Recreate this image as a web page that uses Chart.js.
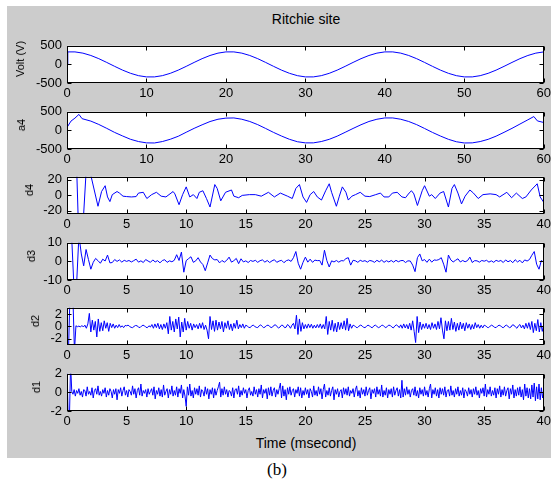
<!DOCTYPE html>
<html>
<head>
<meta charset="utf-8">
<script src="https://cdn.jsdelivr.net/npm/chart.js@4.4.1/dist/chart.umd.min.js"></script>
<style>
  body { margin: 0; width: 554px; height: 481px; background: #fff; position: relative; overflow: hidden; }
  #figure { position: absolute; left: 7px; top: 6px; width: 544px; height: 452px; background: #cccccc; }
  canvas { position: absolute; left: 0; }
  .txt { position: absolute; font-family: "Liberation Sans", Arial, sans-serif; color: #000; white-space: nowrap; }
  .ylab { font-size: 11px; line-height: 12px; transform: translate(-50%, -50%) rotate(-90deg); }
</style>
</head>
<body>
<div id="figure"></div>
<div class="txt" style="left:206px; width:200px; text-align:center; top:11px; font-size:14px; line-height:16px;">Ritchie site</div>
<div class="txt" style="left:206px; width:200px; text-align:center; top:435px; font-size:14px; line-height:16px;">Time (msecond)</div>
<div class="txt" style="left:227px; width:100px; text-align:center; top:460px; font-family:'Liberation Serif', 'Times New Roman', serif; font-size:17px; line-height:20px;">(b)</div>
<script>
// values (time in msecond)
const voltTime = [0, 0.1, 1, 2, 3, 4, 5, 6, 7, 8, 9, 10,
  11, 12, 13, 14, 15, 16, 17, 18, 19, 20,
  21, 22, 23, 24, 25, 26, 27, 28, 29, 30,
  31, 32, 33, 34, 35, 36, 37, 38, 39, 40,
  41, 42, 43, 44, 45, 46, 47, 48, 49, 50,
  51, 52, 53, 54, 55, 56, 57, 58, 59, 60];
const voltValue = [0, 336, 336, 303, 240, 154, 53, -53, -154, -240, -303, -336,
  -336, -303, -240, -154, -53, 53, 154, 240, 303, 336,
  336, 303, 240, 154, 53, -53, -154, -240, -303, -336,
  -336, -303, -240, -154, -53, 53, 154, 240, 303, 336,
  336, 303, 240, 154, 53, -53, -154, -240, -303, -336,
  -336, -303, -240, -154, -53, 53, 154, 240, 303, 336];

const a4Time = [0, 0.5, 1, 1.5, 1.9,
  3, 4, 5, 6, 7, 8, 9, 10,
  11, 12, 13, 14, 15, 16, 17, 18, 19, 20,
  21, 22, 23, 24, 25, 26, 27, 28, 29, 30,
  31, 32, 33, 34, 35, 36, 37, 38, 39, 40,
  41, 42, 43, 44, 45, 46, 47, 48, 49, 50,
  51, 52, 53, 54, 55, 56, 57, 58, 58.75, 59.2, 60];
const a4Value = [80, 250, 330, 430, 315,
  250, 160, 55, -55, -150, -240, -300, -335,
  -338, -300, -238, -158, -50, 55, 150, 238, 300, 330,
  335, 300, 240, 155, 52, -55, -152, -240, -305, -335,
  -335, -300, -240, -155, -52, 52, 152, 240, 300, 335,
  335, 300, 240, 155, 52, -55, -152, -240, -305, -338,
  -335, -300, -240, -155, -52, 55, 170, 285, 372, 255, 212];

const d4Time = [0, 0.8, 1.0, 1.3, 1.6, 2.0, 2.6, 2.9, 3.2, 3.4,
  3.6, 3.8, 4.2, 4.4, 4.7, 5.0, 5.4, 5.8, 6.0, 6.4,
  6.7, 7.1, 7.5, 7.9, 8.3, 8.9, 9.05, 9.4, 9.7, 10.0,
  10.3, 10.6, 10.9, 11.1, 11.4, 11.7, 12.0, 12.4, 12.6, 12.9,
  13.3, 13.8, 14.0, 14.4, 14.7, 15.3, 15.8, 16.3, 16.9, 17.4,
  17.9, 18.5, 18.9, 19.2, 19.5, 19.8, 20.1, 20.4, 20.7, 21.0,
  21.35, 21.7, 22.0, 22.2, 22.6, 22.85, 23.1, 23.4, 23.6, 23.9,
  24.2, 24.6, 25.0, 25.4, 25.9, 26.3, 26.6, 27.0, 27.3, 27.7,
  28.1, 28.4, 28.7, 28.9, 29.1, 29.4, 29.8, 30.0, 30.4, 30.6,
  30.9, 31.3, 31.6, 32.0, 32.3, 32.5, 32.8, 33.1, 33.4, 33.8,
  34.1, 34.5, 34.9, 35.5, 36.0, 36.3, 36.9, 37.3, 37.7, 38.2,
  38.5, 38.95, 39.45, 39.7, 40.0];
const d4Value = [30, 40, -60, -50, 30, 26, -14, 5, 12.5, -2,
  -8, 1, 5, 3, -1, -1.5, -2, -1.5, 3, 4,
  -4, 1, 4, -1, -2, 5, 2, -12, 1, 11,
  -2, 1, -4, 4, 6, -4, -15, 14, 9, -7,
  4, 7, -1, -3, 0, 1, 1, -1, 4, -2,
  3, -1, -4, 9, 14, -2, -9, 1, 5, -2,
  -6, 6, 15, 4, -14, -1, 11, 4, -6, -1,
  1, 4, -1, -1.5, 1, 3, -2, -2, 3, 4,
  -2, -3, 3, 6, 2, -13, 6, 12.5, -1, 1,
  -4, 3, 5, -15, 9, 14, 3, -11, -1, 7,
  3, -4, 1, 2, 1, -2, 4, -3, 3, -4,
  -2, 7, 15, -2, -9];

// d3: one sample every 0.2 ms, five per group
const d3Step = 0.2;
const d3Value = [
  14, 16, 12, -16, -13,   14, 4, -2.4, 6.4, 1,
  -4.2, -0.5, 1.6, 0.4, -1,   1.2, 0.2, 3.4, -0.8, -0.6,
  1, 0, 0.8, -0.4, 0.6,   0, 0.5, -0.3, 0.4, 1.2,
  -0.4, 0.3, -0.6, 1, 0.2,   -0.5, 0.8, -0.3, 0.4, -0.8,
  0.5, 0.9, -0.5, 0.3, -0.2,   0.6, 3.6, 0.5, 5, -5.8,
  0.4, 1.5, 2.5, -0.5, 0.3,   2, -0.3, -1.7, -5, -0.8,
  3.4, 1.5, 0.8, 1, -0.8,   0.5, -0.4, 0.6, 2.3, -0.4,
  0.4, 1.6, -1.2, 1.4, -0.3,   0.3, -0.6, 0.5, 0, 0.6,
  -0.5, 0.4, 0.8, -0.4, 0.5,   -0.6, 0.3, 0.9, -0.5, 0.2,
  0.6, -0.7, 0.4, 0.8, 0,   2, 5.3, -1, -4.2, -0.5,
  2.3, -0.4, 1.2, -0.5, 0.7,   0.4, 0.5, -2, 6, 0.4,
  -3, 0.3, -0.3, 0.5, -0.4,   0.4, 0.3, 1.5, 2, -2,
  0.6, 0.3, -0.5, 0.6, 0,   0.4, -0.4, 0.5, 0.2, -0.5,
  0.6, -0.2, 0.7, -0.5, 0.4,   -0.3, 0.5, -0.4, 0.6, -0.2,
  0.4, 0.5, -0.6, 0.3, 0.2,   -2, -5.5, 2, 4, 0.3,
  1, -0.5, 1.2, -0.4, 0.8,   0.6, 1, 2, -1.5, -5.8,
  3.4, 0.8, -0.3, 0.6, 1.4,   -0.3, 0.5, -0.2, 0.4, 2.3,
  -0.6, 0.4, 0.3, -0.4, 0.5,   0.1, 0.6, -0.4, 0.3, -0.5,
  0.6, 0, 0.5, -0.6, 0.8,   -0.2, 0.5, -0.7, 0.9, -0.3,
  0.6, -0.8, 0.8, 0.2, 1,   3.3, 5.3, -1.5, -4.2, 0.5,
  -0.5];

// d2: one sample every 0.125 ms, eight per line (one line = 1 ms)
const d2Step = 0.125;
const d2Value = [
  -5, -4, 5, 4, 4.5, -4, 0.1, -0.05,
  0.05, -0.1, 0.15, -0.1, 0.2, -0.3, 0.4, 2.1,
  -0.9, 1.0, -0.6, 0.8, -1.7, 1.2, -0.8, 0.6,
  -0.7, 0.9, -0.3, 0.6, -0.8, 0.5, -0.2, 0.4,
  -0.3, 0.2, -0.2, 0.3, -0.15, 0.1, -0.2, 0.15,
  0.1, 0.2, 0, -0.15, -0.2, 0, 0.15, 0.1,
  -0.1, -0.2, 0.05, 0.2, 0.1, -0.15, -0.2, 0.1,
  -0.1, 0.3, -0.3, 0.4, -0.2, 0.5, -0.4, 0.3,
  -0.5, 0.4, -0.3, 0.6, -1.2, 1.6, -0.6, 0.8,
  -0.9, 1.2, -0.4, 1.5, -1.7, 0.7, -0.9, 1.3,
  -0.6, 0.8, -0.3, 0.5, -0.6, 0.4, -0.2, 0.3,
  -0.4, 0.5, -0.3, 0.6, -0.5, 0.2, -0.6, -2.0,
  1.6, -0.5, 0.9, -0.8, 1.0, -0.6, 0.7, -0.4,
  0.8, -0.9, 0.6, -0.3, 0.9, -0.5, 0.4, -0.7,
  0.5, -0.3, 1.0, -0.4, 0.3, -0.2, 0.4, -0.3,
  0.2, 0.05, -0.15, -0.2, 0.1, 0.2, 0, -0.15,
  -0.2, 0.1, 0.25, 0, -0.2, -0.1, 0.15, 0.2,
  0, -0.2, -0.1, 0.2, 0.25, -0.05, -0.25, -0.1,
  0.2, 0.15, -0.2, -0.15, 0.3, 0.1, -0.3, 0.2,
  0.5, -0.4, 1.8, -1.3, 1.2, -0.8, 0.6, -0.4,
  0.3, -0.3, 0.4, -0.2, 0.35, -0.3, 0.2, -0.25,
  0.3, -0.2, 0.4, -0.35, 0.3, -0.4, 1.6, -1.3,
  0.8, -0.6, 1.0, -0.8, 0.5, -0.9, 0.7, -0.5,
  0.6, -0.4, 0.9, -0.6, 1.3, -0.7, 0.4, -0.3,
  0.2, 0.1, -0.15, -0.2, 0.05, 0.2, 0.1, -0.15,
  -0.2, 0, 0.2, 0.1, -0.15, -0.2, 0.1, 0.2,
  0, -0.2, -0.1, 0.15, 0.2, -0.05, -0.2, 0,
  0.2, 0.15, -0.1, -0.25, 0.05, 0.25, 0.1, -0.2,
  0.25, -0.3, 0.4, -0.25, 0.3, -0.4, 0.5, -0.6,
  0.9, -0.8, -2.6, 1.6, -1.0, 0.7, -0.5, 0.4,
  -0.3, 0.5, -0.4, 0.3, -0.5, 0.6, -0.3, 0.4,
  -0.5, 0.8, -0.4, 1.4, -0.6, -2.0, 0.9, -0.7,
  0.8, -0.6, 1.3, -0.5, 0.7, -0.8, 0.5, -0.6,
  0.7, -0.4, 0.5, -0.7, 0.6, -0.3, 0.4, -0.5,
  0.3, -0.4, 0.6, -0.2, 0.3, -0.3, 0.2, -0.25,
  0.2, 0.1, -0.15, -0.2, 0.05, 0.2, 0.05, -0.15,
  -0.2, 0.05, 0.2, 0.1, -0.15, -0.2, 0.1, 0.2,
  0, -0.2, -0.1, 0.25, 0.2, -0.1, -0.3, 0.1,
  0.3, -0.25, 0.2, -0.4, 0.5, -0.3, 0.6, -0.5,
  0.8, -1.0, 0.5, -0.7, 1.1, -0.9, 0.6, -0.8,
  0.4];

// d1: one sample every 0.1 ms, ten per line (one line = 1 ms)
const d1Step = 0.1;
const d1Value = [
  3, -3, -3, 3, 0.1, -0.2, 0.3, -0.4, 0.2, -0.1,
  0.4, -0.3, 0.1, -0.5, 0.3, 0.2, -0.4, 0.6, -0.2, 0.1,
  -0.3, 0.5, -0.6, 0.2, 0.4, -0.2, 0.7, -0.3, 0.1, -0.4,
  0.3, -0.1, 0.5, -0.5, 0.2, -0.3, 0.4, 0.1, -0.6, 0.3,
  -0.2, 0.4, -0.8, 0.3, -0.1, 0.5, -0.4, 0.2, 0.6, -0.3,
  0.2, -0.5, 0.3, 0.1, -0.3, 0.7, -0.2, 0.4, -0.6, 0.2,
  0.5, -0.3, 0.9, -0.4, 0.2, -0.1, 0.3, -0.5, 0.4, -0.2,
  0.1, 0.4, -0.3, 0.6, -0.7, 0.2, -0.2, 0.5, -0.4, 0.3,
  -0.5, 0.8, -0.3, 0.1, 0.4, -0.6, 0.3, -0.2, 0.7, -0.4,
  0.2, -0.3, 0.6, -0.5, 0.4, -0.1, 0.8, -0.6, 0.3, -0.4,
  -1.5, 0.6, -0.3, 0.9, -0.4, 0.2, -0.6, 0.5, -0.2, 0.4,
  -0.3, 0.7, -0.5, 0.3, 0.1, -0.4, 0.6, -0.2, 0.4, -0.7,
  0.3, -0.2, 0.5, -0.6, 0.4, -0.3, 0.2, 0.6, 1.1, -0.5,
  0.4, -0.3, 0.6, -0.2, 0.3, -0.5, 0.2, 0.1, -0.4, 0.5,
  -0.6, 0.3, 0.4, -0.2, 0.7, -0.5, 0.2, -0.3, 0.5, -0.1,
  0.3, -0.6, 0.2, 0.5, -0.3, 0.1, -0.4, 0.6, -0.2, 0.3,
  -0.5, 0.4, -0.2, 0.8, -0.6, 0.3, -0.1, 0.4, -0.7, 0.5,
  -0.3, 0.6, -0.4, 0.2, 0.5, -0.5, 0.3, -0.2, 0.4, 1.0,
  -0.6, 0.7, -0.4, 0.3, -0.8, 0.5, -0.2, 0.6, -0.3, 0.2,
  0.4, -0.5, 0.3, -0.1, 0.6, -0.4, 0.5, -0.6, 0.2, -0.3,
  0.5, -0.2, 0.3, -0.6, 0.4, 0.1, -0.5, 0.7, -0.3, 0.2,
  -0.4, 0.6, -0.2, 0.4, -0.7, 0.3, 0.9, -0.5, 0.2, -0.3,
  0.5, -0.4, 0.2, 0.6, -0.8, 0.3, -0.2, 0.4, -0.5, 0.1,
  0.3, -0.6, 0.5, -0.2, 0.4, -0.3, 0.6, -0.4, 0.2, -0.1,
  0.4, -0.5, 0.3, 0.7, -0.4, 0.2, -0.6, 0.5, -0.2, 0.3,
  -0.4, 0.6, -0.3, 0.2, 0.5, -0.7, 0.3, -0.1, 0.4, -0.5,
  0.6, -0.2, 0.3, -0.4, 0.8, -0.5, 0.2, -0.3, 0.5, -0.6,
  0.3, -0.2, 0.4, -0.5, 0.6, -0.3, 0.2, 0.5, -0.4, 0.3,
  -0.6, 1.3, -0.5, 0.4, -0.3, 0.6, -0.2, 0.3, -0.5, 0.2,
  0.4, -0.3, 0.6, -0.4, 0.2, -0.6, 0.5, -0.2, 0.3, -0.4,
  0.6, -0.3, 0.2, -0.5, 0.4, 0.9, -0.6, 0.3, -0.2, 0.5,
  -0.4, 0.3, -0.6, 0.5, -0.2, 0.4, -0.3, 0.6, -0.5, 0.2,
  0.3, -0.4, 0.7, -0.3, 0.2, -0.5, 0.4, -0.2, 0.6, -0.4,
  0.2, -0.3, 0.5, -0.6, 0.3, 0.1, -0.4, 0.5, -0.2, 0.3,
  -0.5, 0.4, -0.2, 0.6, -0.3, 0.2, -0.6, 0.4, -0.1, 0.5,
  -0.4, 0.9, -0.5, 0.3, -0.2, 0.6, -0.4, 0.2, -0.3, 0.5,
  -0.6, 0.4, -0.2, 0.7, -0.5, 0.3, -0.3, 0.6, -0.4, 0.2,
  0.5, -0.7, 0.4, -0.2, 0.8, -0.6, 0.3, -0.4, 0.5, -0.3,
  0.6, -0.5, 0.3, -0.8, 0.9, -0.4, 0.5, -0.6, 0.4, -0.7,
  0.8, -0.5, 1.0, -0.9, 0.6, -0.7, 0.9, -0.8, 0.5, -0.6,
  0.3];

const xTicks60 = [0, 10, 20, 30, 40, 50, 60];
const xTicks40 = [0, 5, 10, 15, 20, 25, 30, 35, 40];
const yLabels = ['Volt (V)', 'a4', 'd4', 'd3', 'd2', 'd1'];
const yLimits = [[-500, 500], [-500, 500], [-24, 24], [-10, 10], [-3, 3], [-2, 2]];
const yTicks = [[-500, 0, 500], [-500, 0, 500], [-20, 0, 20], [-10, 0, 10], [-2, 0, 2], [-2, 0, 2]];

// layout of the six stacked axes
const PLOT_LEFT = 67, PLOT_RIGHT = 546, FIRST_TOP = 35, PANEL_STEP = 65.6, PLOT_H = 48;
const PAD_TOP = 2, X_AXIS_H = 22, TICK_LEN = 4;
const yLabelX = [20, 21, 29, 31, 35, 36];
const tickFont = { family: "'Liberation Sans', Arial, sans-serif", size: 13 };

const pairs = (t, v) => v.map((y, i) => ({ x: t[i], y }));
const sampled = (step, v) => v.map((y, i) => ({ x: i * step, y }));

const series = [
  { points: pairs(voltTime, voltValue), xMax: 60, xTicks: xTicks60 },
  { points: pairs(a4Time, a4Value), xMax: 60, xTicks: xTicks60 },
  { points: pairs(d4Time, d4Value), xMax: 40, xTicks: xTicks40 },
  { points: sampled(d3Step, d3Value), xMax: 40, xTicks: xTicks40 },
  { points: sampled(d2Step, d2Value), xMax: 40, xTicks: xTicks40 },
  { points: sampled(d1Step, d1Value), xMax: 40, xTicks: xTicks40 },
];

// white axes box with inward ticks on all four sides, like the original figure
const frame = {
  id: 'frame',
  beforeDraw(chart) {
    const { ctx, chartArea: a } = chart;
    ctx.save();
    ctx.fillStyle = '#fff';
    ctx.fillRect(a.left, a.top, a.right - a.left, a.bottom - a.top);
    ctx.restore();
  },
  afterDatasetsDraw(chart) {
    const { ctx, chartArea: a, scales: { x, y } } = chart;
    const L = Math.round(a.left) + 0.5, R = Math.round(a.right) - 0.5;
    const T = Math.round(a.top) + 0.5, B = Math.round(a.bottom) - 0.5;
    ctx.save();
    ctx.strokeStyle = '#000';
    ctx.lineWidth = 1;
    ctx.strokeRect(L, T, R - L, B - T);
    ctx.beginPath();
    x.ticks.forEach(t => {
      const px = Math.round(x.getPixelForValue(t.value)) + 0.5;
      ctx.moveTo(px, T); ctx.lineTo(px, T + TICK_LEN);
      ctx.moveTo(px, B); ctx.lineTo(px, B - TICK_LEN);
    });
    y.ticks.forEach(t => {
      const py = Math.round(y.getPixelForValue(t.value)) + 0.5;
      ctx.moveTo(L, py); ctx.lineTo(L + TICK_LEN, py);
      ctx.moveTo(R, py); ctx.lineTo(R - TICK_LEN, py);
    });
    ctx.stroke();
    ctx.restore();
  }
};

series.forEach((s, k) => {
  const top = Math.round(FIRST_TOP + k * PANEL_STEP);
  const canvas = document.createElement('canvas');
  canvas.width = 554;
  canvas.height = PAD_TOP + PLOT_H + X_AXIS_H;
  canvas.style.top = (top - PAD_TOP) + 'px';
  document.body.appendChild(canvas);

  const lab = document.createElement('div');
  lab.className = 'txt ylab';
  lab.textContent = yLabels[k];
  lab.style.left = yLabelX[k] + 'px';
  lab.style.top = (top + PLOT_H / 2) + 'px';
  document.body.appendChild(lab);

  new Chart(canvas, {
    type: 'line',
    data: {
      datasets: [{
        data: s.points,
        borderColor: '#0000ff',
        borderWidth: 1,
        pointRadius: 0,
        tension: 0,
        fill: false
      }]
    },
    options: {
      responsive: false,
      animation: false,
      devicePixelRatio: 1,
      events: [],
      layout: { padding: { top: PAD_TOP, right: 554 - PLOT_RIGHT, bottom: 0, left: 0 } },
      plugins: { legend: { display: false }, tooltip: { enabled: false } },
      scales: {
        x: {
          type: 'linear',
          min: 0,
          max: s.xMax,
          afterBuildTicks: sc => { sc.ticks = s.xTicks.map(v => ({ value: v })); },
          afterFit: sc => { sc.height = X_AXIS_H; },
          grid: { display: false, drawTicks: false },
          border: { display: false },
          ticks: { font: tickFont, color: '#000', padding: 3, maxRotation: 0, autoSkip: false }
        },
        y: {
          type: 'linear',
          min: yLimits[k][0],
          max: yLimits[k][1],
          afterBuildTicks: sc => { sc.ticks = yTicks[k].map(v => ({ value: v })); },
          afterFit: sc => { sc.width = PLOT_LEFT; },
          grid: { display: false, drawTicks: false },
          border: { display: false },
          ticks: { font: tickFont, color: '#000', padding: 5, autoSkip: false }
        }
      }
    },
    plugins: [frame]
  });
});
</script>
</body>
</html>
